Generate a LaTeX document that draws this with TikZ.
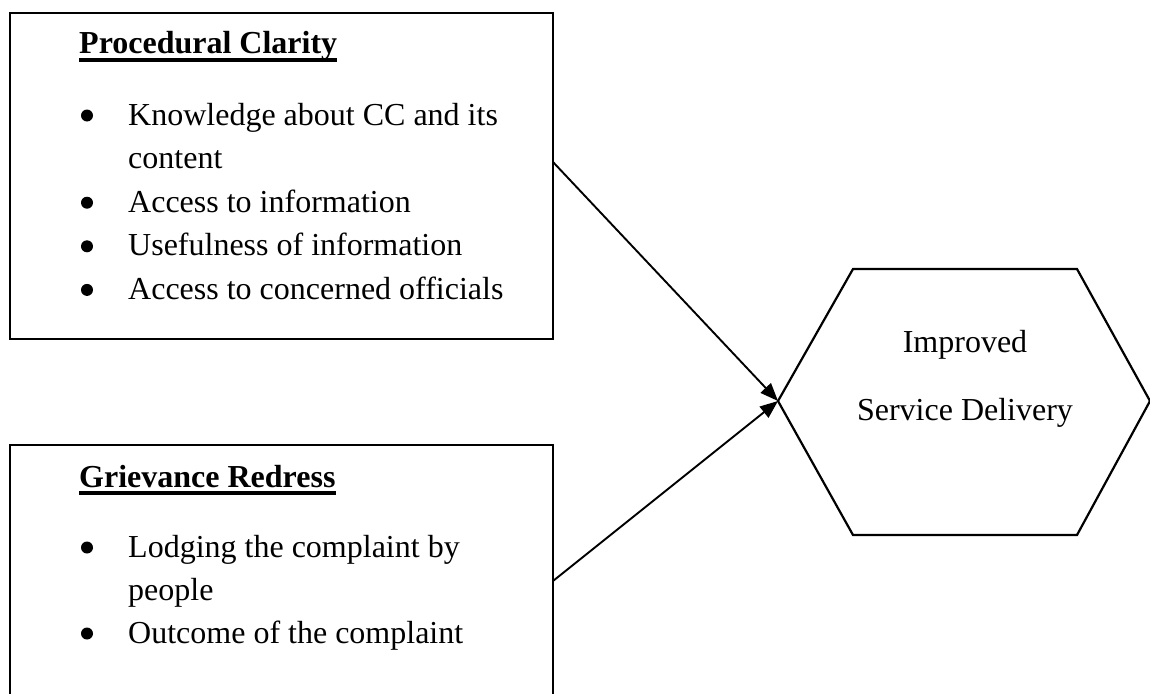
\documentclass[tikz,border=0pt]{standalone}
\usepackage{fontspec}
\setmainfont{Liberation Serif}
\usetikzlibrary{arrows.meta}

\tikzset{
  boxline/.style={draw=black, line width=2.2pt},
  txt/.style={anchor=base west, inner sep=0pt, font=\fontsize{32}{40}\selectfont},
  bul/.style={circle, fill=black, inner sep=0pt, minimum size=12pt},
  head/.style={anchor=base west, inner sep=0pt, font=\fontsize{32}{40}\selectfont\bfseries},
  uline/.style={line width=3.4pt},
  ctxt/.style={anchor=base, inner sep=0pt, font=\fontsize{32}{40}\selectfont},
  link/.style={line width=1.9pt, -{Triangle[length=18pt,width=14pt]}}
}

\begin{document}
\begin{tikzpicture}[x=1pt,y=-1pt]
  \clip (0,0) rectangle (1150,693);
  \fill[white] (0,0) rectangle (1150,693);

  % Procedural clarity box
  \coordinate (pcNW) at (10,13);
  \coordinate (pcSE) at (553,339);
  \draw[boxline] (pcNW) rectangle (pcSE);
  \node[head] (pct) at (79,54) {Procedural Clarity};
  \draw[uline] ([yshift=-6pt]pct.base west) -- ([yshift=-6pt]pct.base east);
  \node[bul] (pb1) at (87,115.5) {};
  \node[txt] (p1a) at (128,125) {Knowledge about CC and its};
  \node[txt] (p1b) at (128,168.6) {content};
  \node[bul] (pb2) at (87,202.7) {};
  \node[txt] (p2) at (128,212.2) {Access to information};
  \node[bul] (pb3) at (87,246.3) {};
  \node[txt] (p3) at (128,255.8) {Usefulness of information};
  \node[bul] (pb4) at (87,289.9) {};
  \node[txt] (p4) at (128,299.4) {Access to concerned officials};

  % Grievance redress box (runs past the lower edge)
  \coordinate (grNW) at (10,445);
  \coordinate (grSE) at (553,720);
  \draw[boxline] (grNW) rectangle (grSE);
  \node[head] (grt) at (79,487) {Grievance Redress};
  \draw[uline] ([yshift=-6pt]grt.base west) -- ([yshift=-6pt]grt.base east);
  \node[bul] (gb1) at (87,547.5) {};
  \node[txt] (g1a) at (128,557) {Lodging the complaint by};
  \node[txt] (g1b) at (128,600) {people};
  \node[bul] (gb2) at (87,633.5) {};
  \node[txt] (g2) at (128,643) {Outcome of the complaint};

  % Outcome hexagon
  \coordinate (hxL)  at (778,401);
  \coordinate (hxTL) at (853,269);
  \coordinate (hxTR) at (1077,269);
  \coordinate (hxR)  at (1150,401);
  \coordinate (hxBR) at (1077,535);
  \coordinate (hxBL) at (853,535);
  \draw[boxline] (hxL) -- (hxTL) -- (hxTR) -- (hxR) -- (hxBR) -- (hxBL) -- cycle;
  \node[ctxt] (isd1) at (965,352) {Improved};
  \node[ctxt] (isd2) at (965,420) {Service Delivery};

  % Connectors
  \coordinate (pcOut) at (553,162);
  \coordinate (grOut) at (553,581);
  \draw[link] (pcOut) -- (hxL);
  \draw[link] (grOut) -- (hxL);
\end{tikzpicture}
\end{document}
